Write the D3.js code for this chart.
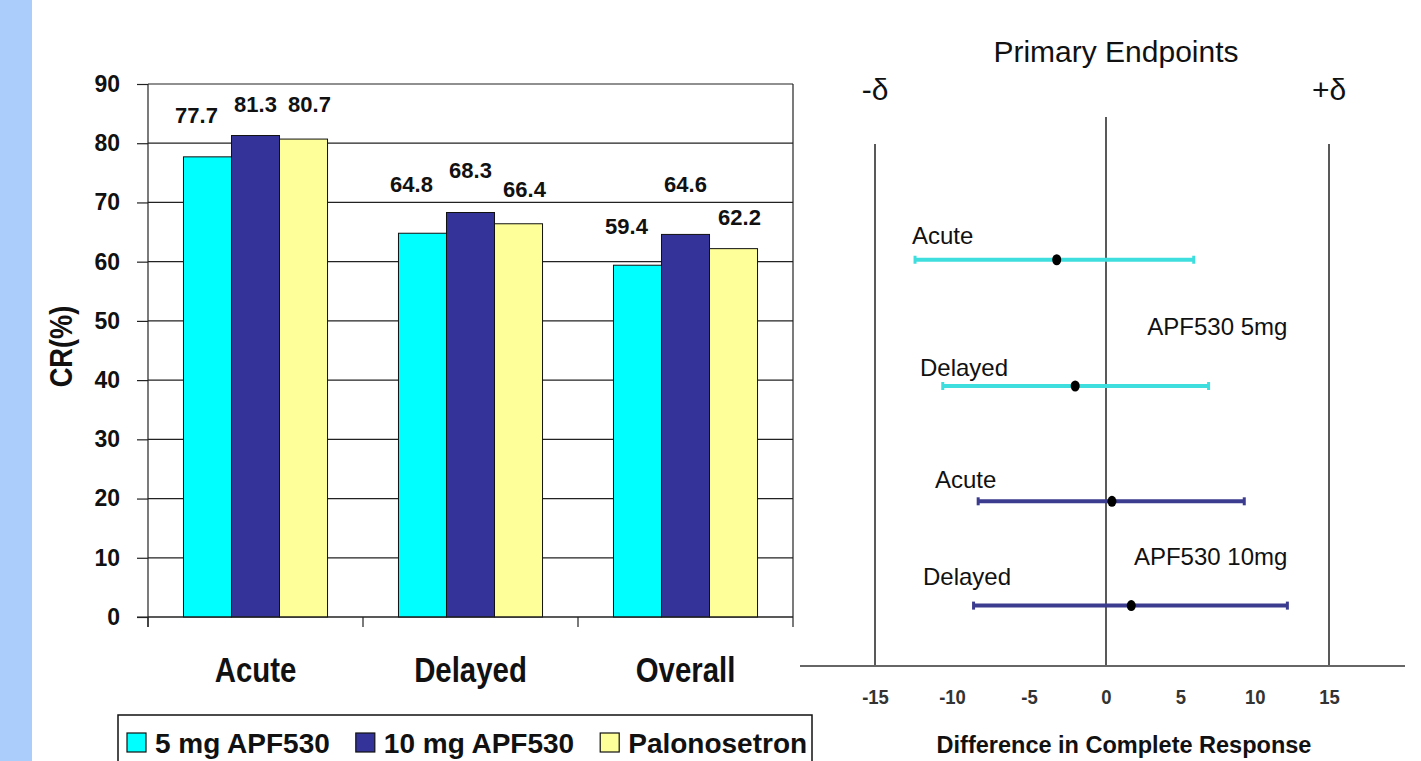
<!DOCTYPE html>
<html>
<head>
<meta charset="utf-8">
<script src="https://cdn.jsdelivr.net/npm/d3@7"></script>
<style>
  body { margin: 0; background: #fff; }
  svg { display: block; }
  .sans { font-family: "Liberation Sans", Arial, sans-serif; }
</style>
</head>
<body>
<div id="chart"></div>
<script>
// ---- bar chart data ----
const categories = ["Acute", "Delayed", "Overall"];
const seriesNames = ["5 mg APF530", "10 mg APF530", "Palonosetron"];
const dose5 = [77.7, 64.8, 59.4];
const dose10 = [81.3, 68.3, 64.6];
const palonosetron = [80.7, 66.4, 62.2];
const yTicks = [0, 10, 20, 30, 40, 50, 60, 70, 80, 90];

// ---- forest plot data ----
const endpointLabels = ["Acute", "Delayed", "Acute", "Delayed"];
const diffPoint = [-3.2, -2.0, 0.4, 1.7];
const ciLow = [-12.4, -10.6, -8.3, -8.6];
const ciHigh = [5.9, 6.9, 9.3, 12.2];
const rowLevel = [7.4, 5.1, 3.0, 1.1];
const doseGroups = ["APF530 5mg", "APF530 10mg"];
const diffTicks = [-15, -10, -5, 0, 5, 10, 15];
const refLines = [-15, 0, 15];

const W = 1421, H = 761;
const colors = ["#00ffff", "#333399", "#ffff99"];
const ciColors = ["#3fdede", "#3fdede", "#3b3b8f", "#3b3b8f"];

const svg = d3.select("#chart").append("svg")
    .attr("width", W)
    .attr("height", H);

// left slide strip
svg.append("rect")
    .attr("x", 0).attr("y", 0)
    .attr("width", 32).attr("height", H)
    .attr("fill", "#aacdfb");

// ================= bar chart =================
const x0 = d3.scaleBand().domain(categories).range([148, 793])
    .paddingInner(0.33).paddingOuter(0.165);
const x1 = d3.scaleBand().domain(seriesNames).range([0, x0.bandwidth()]);
const y = d3.scaleLinear().domain([0, 90]).range([617, 84]);

const series = [dose5, dose10, palonosetron];
const barData = [];
categories.forEach((c, i) => {
    seriesNames.forEach((s, j) => {
        barData.push({ cat: c, ser: s, si: j, ci: i, value: series[j][i] });
    });
});

// gridlines
svg.append("g").selectAll("line")
    .data(yTicks)
    .join("line")
    .attr("x1", 148).attr("x2", 793)
    .attr("y1", d => y(d)).attr("y2", d => y(d))
    .attr("stroke", "#222").attr("stroke-width", 1.2);

// right border
svg.append("line")
    .attr("x1", 793).attr("x2", 793)
    .attr("y1", y(90)).attr("y2", y(0))
    .attr("stroke", "#222").attr("stroke-width", 1.2);

// y axis
const yAxis = svg.append("g")
    .attr("transform", "translate(148,0)")
    .call(d3.axisLeft(y).tickValues(yTicks).tickSize(11).tickSizeOuter(0).tickPadding(17));
yAxis.select(".domain").remove();
yAxis.selectAll(".tick line").attr("stroke", "#222").attr("stroke-width", 1.2);
yAxis.selectAll("text")
    .attr("class", "sans")
    .style("font-size", "23px")
    .style("font-weight", "bold")
    .attr("fill", "#111");
svg.append("line")
    .attr("x1", 148).attr("x2", 148)
    .attr("y1", y(90)).attr("y2", y(0) + 10)
    .attr("stroke", "#222").attr("stroke-width", 1.2);

// y axis title
svg.append("text")
    .attr("class", "sans")
    .attr("transform", `translate(72,${(y(0) + y(90)) / 2 - 4}) rotate(-90) scale(0.85,1)`)
    .attr("text-anchor", "middle")
    .style("font-size", "32px")
    .style("font-weight", "bold")
    .attr("fill", "#111")
    .text("CR(%)");

// bars
svg.append("g").selectAll("rect")
    .data(barData)
    .join("rect")
    .attr("x", d => x0(d.cat) + x1(d.ser))
    .attr("y", d => y(d.value))
    .attr("width", x1.bandwidth())
    .attr("height", d => y(0) - y(d.value))
    .attr("fill", d => colors[d.si])
    .attr("stroke", "#111")
    .attr("stroke-width", 1);

// x axis baseline + category boundary ticks
svg.append("line")
    .attr("x1", 137).attr("x2", 793)
    .attr("y1", y(0)).attr("y2", y(0))
    .attr("stroke", "#222").attr("stroke-width", 1.2);
const bounds = categories.map(c => x0(c) - x0.step() * x0.paddingOuter())
    .concat([x0(categories[2]) + x0.bandwidth() + x0.step() * x0.paddingOuter()]);
svg.append("g").selectAll("line")
    .data(bounds)
    .join("line")
    .attr("x1", d => d).attr("x2", d => d)
    .attr("y1", y(0)).attr("y2", y(0) + 10)
    .attr("stroke", "#222").attr("stroke-width", 1.2);

const xAxis = svg.append("g")
    .attr("transform", `translate(0,${y(0)})`)
    .call(d3.axisBottom(x0).tickSize(0).tickPadding(40));
xAxis.select(".domain").remove();
xAxis.selectAll("text")
    .attr("class", "sans")
    .attr("transform", "scale(0.84,1)")
    .style("font-size", "35px")
    .style("font-weight", "bold")
    .attr("fill", "#111");

// value labels (hand-placed in the original slide)
const labelDx = [-11, 0, 6];
const labelLift = [
    [34, 24, 27],
    [41, 35, 27],
    [31, 42, 24]
];
svg.append("g").selectAll("text")
    .data(barData)
    .join("text")
    .attr("class", "sans")
    .attr("x", d => x0(d.cat) + x1(d.ser) + x1.bandwidth() / 2 + labelDx[d.si])
    .attr("y", d => y(d.value) - labelLift[d.ci][d.si])
    .attr("text-anchor", "middle")
    .style("font-size", "22px")
    .style("font-weight", "bold")
    .attr("fill", "#111")
    .text(d => d.value.toFixed(1));

// legend
const legend = svg.append("g");
legend.append("rect")
    .attr("x", 118).attr("y", 715)
    .attr("width", 694).attr("height", 70)
    .attr("fill", "#fff")
    .attr("stroke", "#111").attr("stroke-width", 1.5);
let lx = 127;
seriesNames.forEach((s, i) => {
    legend.append("rect")
        .attr("x", lx).attr("y", 733)
        .attr("width", 19).attr("height", 19)
        .attr("fill", colors[i])
        .attr("stroke", "#111").attr("stroke-width", 1.2);
    const t = legend.append("text")
        .attr("class", "sans")
        .attr("x", lx + 28).attr("y", 753)
        .style("font-size", "28px")
        .style("font-weight", "bold")
        .attr("fill", "#111")
        .text(s);
    lx = lx + 28 + t.node().getComputedTextLength() + 26;
});

// ================= forest plot =================
const xf = d3.scaleLinear().domain([-15, 0, 15]).range([875, 1106, 1329]);
const yf = d3.scaleLinear().domain([0, 10]).range([666, 117]);

svg.append("text")
    .attr("class", "sans")
    .attr("x", 1116).attr("y", 62)
    .attr("text-anchor", "middle")
    .style("font-size", "30px")
    .attr("fill", "#111")
    .text("Primary Endpoints");

svg.append("text")
    .attr("class", "sans")
    .attr("x", xf(-15)).attr("y", 100)
    .attr("text-anchor", "middle")
    .style("font-size", "30px")
    .attr("fill", "#111")
    .text("-δ");
svg.append("text")
    .attr("class", "sans")
    .attr("x", xf(15)).attr("y", 100)
    .attr("text-anchor", "middle")
    .style("font-size", "30px")
    .attr("fill", "#111")
    .text("+δ");

// reference lines
svg.append("g").selectAll("line")
    .data(refLines)
    .join("line")
    .attr("x1", d => xf(d)).attr("x2", d => xf(d))
    .attr("y1", d => d === 0 ? yf(10) : 144)
    .attr("y2", yf(0))
    .attr("stroke", "#222").attr("stroke-width", 1.5);

// axis
svg.append("line")
    .attr("x1", 800).attr("x2", 1405)
    .attr("y1", yf(0)).attr("y2", yf(0))
    .attr("stroke", "#666").attr("stroke-width", 2);
const fAxis = svg.append("g")
    .attr("transform", `translate(0,${yf(0)})`)
    .call(d3.axisBottom(xf).tickValues(diffTicks).tickFormat(d => String(d))
        .tickSize(0).tickPadding(23));
fAxis.select(".domain").remove();
fAxis.selectAll("text")
    .attr("class", "sans")
    .attr("transform", "scale(0.88,1)")
    .style("font-size", "21px")
    .style("font-weight", "bold")
    .attr("fill", "#333");

svg.append("text")
    .attr("class", "sans")
    .attr("x", 1124).attr("y", 753)
    .attr("text-anchor", "middle")
    .style("font-size", "23.5px")
    .style("font-weight", "bold")
    .attr("fill", "#111")
    .text("Difference in Complete Response");

const rows = endpointLabels.map((l, i) => ({
    label: l, pt: diffPoint[i], lo: ciLow[i], hi: ciHigh[i], lvl: rowLevel[i], color: ciColors[i]
}));

const rowG = svg.append("g").selectAll("g")
    .data(rows)
    .join("g");
rowG.append("line")
    .attr("x1", d => xf(d.lo)).attr("x2", d => xf(d.hi))
    .attr("y1", d => yf(d.lvl)).attr("y2", d => yf(d.lvl))
    .attr("stroke", d => d.color).attr("stroke-width", 4);
rowG.selectAll(".cap")
    .data(d => [d.lo, d.hi].map(v => ({ v, d })))
    .join("line")
    .attr("class", "cap")
    .attr("x1", e => xf(e.v)).attr("x2", e => xf(e.v))
    .attr("y1", e => yf(e.d.lvl) - 4).attr("y2", e => yf(e.d.lvl) + 4)
    .attr("stroke", e => e.d.color).attr("stroke-width", 3);
rowG.append("ellipse")
    .attr("cx", d => xf(d.pt)).attr("cy", d => yf(d.lvl))
    .attr("rx", 4.5).attr("ry", 5.5)
    .attr("fill", "#000");

// endpoint labels (hand-placed in the original slide)
const labelX = [912, 920, 935, 923];
const labelUp = [16, 10, 13, 21];
rowG.append("text")
    .attr("class", "sans")
    .attr("x", (d, i) => labelX[i])
    .attr("y", (d, i) => yf(d.lvl) - labelUp[i])
    .style("font-size", "24px")
    .attr("fill", "#111")
    .text(d => d.label);

const groupLevel = [6.03, 1.84];
svg.append("g").selectAll("text")
    .data(doseGroups)
    .join("text")
    .attr("class", "sans")
    .attr("x", xf(12.2))
    .attr("y", (d, i) => yf(groupLevel[i]))
    .attr("text-anchor", "end")
    .style("font-size", "24px")
    .attr("fill", "#111")
    .text(d => d);
</script>
</body>
</html>
